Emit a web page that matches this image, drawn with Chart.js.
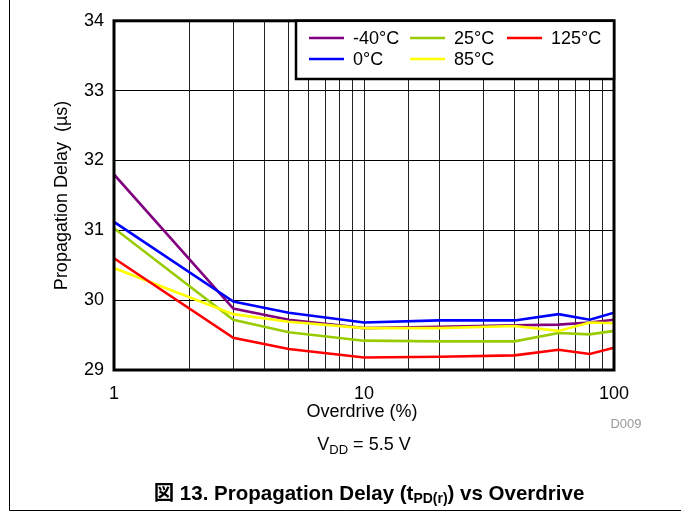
<!DOCTYPE html>
<html>
<head>
<meta charset="utf-8">
<script src="https://cdn.jsdelivr.net/npm/chart.js@4.4.1/dist/chart.umd.min.js"></script>
<style>
  html, body { margin: 0; padding: 0; background: #fff; }
  canvas { display: block; }
</style>
</head>
<body>
<canvas id="chart" width="681" height="514"></canvas>
<script>
// Overdrive (%) en eixo log
const overdrive = [1, 3, 5, 10, 20, 40, 60, 80, 100];

// Atraso de propagação (µs) por temperatura
const tMinus40 = [31.80, 29.88, 29.72, 29.60, 29.62, 29.64, 29.65, 29.68, 29.72];
const t0 = [31.12, 29.98, 29.82, 29.68, 29.71, 29.71, 29.80, 29.72, 29.82];
const t25 = [31.03, 29.72, 29.54, 29.42, 29.41, 29.41, 29.53, 29.51, 29.56];
const t85 = [30.46, 29.80, 29.69, 29.60, 29.60, 29.63, 29.56, 29.68, 29.67];
const t125 = [30.60, 29.46, 29.30, 29.18, 29.19, 29.21, 29.29, 29.23, 29.32];

const seriesLabels = ['-40°C', '0°C', '25°C', '85°C', '125°C'];
const seriesColors = ['#800080', '#0000ff', '#99cc00', '#ffff00', '#ff0000'];

// Ticks
const yTicks = [29, 30, 31, 32, 33, 34];
const xLabelTicks = [1, 10, 100];

const FONT = "'Liberation Sans', Arial, 'Noto Sans CJK JP', sans-serif";

const mkSet = (i, data) => ({
  label: seriesLabels[i],
  data: overdrive.map((x, k) => ({ x, y: data[k] })),
  borderColor: seriesColors[i],
  backgroundColor: seriesColors[i],
  borderWidth: 2.6,
  pointRadius: 0,
  tension: 0,
  order: 5 - i
});

// Moldura, legenda e textos extras
const extras = {
  id: 'extras',
  beforeDraw(chart) {
    const ctx = chart.ctx;
    ctx.save();
    ctx.fillStyle = '#fff';
    ctx.fillRect(0, 0, chart.width, chart.height);
    ctx.strokeStyle = '#000';
    ctx.lineWidth = 1;
    ctx.beginPath();
    ctx.moveTo(9.5, 0);
    ctx.lineTo(9.5, 510.5);
    ctx.lineTo(681, 510.5);
    ctx.stroke();
    ctx.restore();
  },
  afterDraw(chart) {
    const ctx = chart.ctx;
    const a = chart.chartArea;
    ctx.save();

    // moldura grossa
    ctx.strokeStyle = '#000';
    ctx.lineWidth = 3;
    ctx.strokeRect(a.left, a.top, a.right - a.left, a.bottom - a.top);

    // legenda
    const lx = 296, ly = a.top, lw = a.right - lx, lh = 79 - a.top;
    ctx.fillStyle = '#fff';
    ctx.fillRect(lx, ly, lw, lh);
    ctx.lineWidth = 2.5;
    ctx.strokeRect(lx, ly, lw, lh);
    const cols = [309, 410, 507];
    const rows = [38, 59];
    ctx.font = '18px ' + FONT;
    ctx.textBaseline = 'middle';
    ctx.textAlign = 'left';
    seriesLabels.forEach((lab, i) => {
      const cx = cols[Math.floor(i / 2)], cy = rows[i % 2];
      ctx.strokeStyle = seriesColors[i];
      ctx.lineWidth = 2.6;
      ctx.beginPath();
      ctx.moveTo(cx, cy);
      ctx.lineTo(cx + 35, cy);
      ctx.stroke();
      ctx.fillStyle = '#000';
      ctx.fillText(lab, cx + 44, cy + 1);
    });

    // títulos dos eixos
    ctx.fillStyle = '#000';
    ctx.textAlign = 'center';
    ctx.font = '18px ' + FONT;
    ctx.fillText('Overdrive (%)', 362, 412);
    ctx.save();
    ctx.translate(62, (a.top + a.bottom) / 2);
    ctx.rotate(-Math.PI / 2);
    ctx.fillText('Propagation Delay  (\u00b5s)', 0, 0);
    ctx.restore();

    // código da figura
    ctx.fillStyle = '#999';
    ctx.font = '13px ' + FONT;
    ctx.fillText('D009', 626, 424);

    // VDD
    ctx.fillStyle = '#000';
    ctx.textAlign = 'left';
    const parts = [
      ['V', '18px ' + FONT, 0],
      ['DD', '13px ' + FONT, 5],
      [' = 5.5 V', '18px ' + FONT, 0]
    ];
    drawParts(ctx, parts, 364, 445);

    // legenda da figura
    const cap = [
      ['図 13. Propagation Delay (t', 'bold 20.5px ' + FONT, 0],
      ['PD(r)', 'bold 14px ' + FONT, 5],
      [') vs Overdrive', 'bold 20.5px ' + FONT, 0]
    ];
    drawParts(ctx, cap, 369, 494);
    ctx.restore();
  }
};

function drawParts(ctx, parts, cx, cy) {
  let total = 0;
  parts.forEach(p => { ctx.font = p[1]; total += ctx.measureText(p[0]).width; });
  let x = cx - total / 2;
  ctx.textBaseline = 'middle';
  parts.forEach(p => {
    ctx.font = p[1];
    ctx.fillText(p[0], x, cy + p[2]);
    x += ctx.measureText(p[0]).width;
  });
}

new Chart(document.getElementById('chart'), {
  type: 'line',
  data: {
    datasets: [
      mkSet(0, tMinus40),
      mkSet(1, t0),
      mkSet(2, t25),
      mkSet(3, t85),
      mkSet(4, t125)
    ]
  },
  options: {
    responsive: false,
    animation: false,
    layout: { padding: { left: 0, top: 15, right: 67, bottom: 0 } },
    plugins: { legend: { display: false }, tooltip: { enabled: false } },
    scales: {
      x: {
        type: 'logarithmic',
        min: 1,
        max: 100,
        afterFit: s => { s.height = 144; },
        grid: { color: '#222', lineWidth: 1, drawTicks: false },
        border: { display: false },
        ticks: {
          padding: 13,
          autoSkip: false,
          maxRotation: 0,
          color: '#000',
          font: { family: FONT, size: 18 },
          callback: v => xLabelTicks.includes(v) ? String(v) : ''
        }
      },
      y: {
        min: yTicks[0],
        max: yTicks[yTicks.length - 1],
        afterFit: s => { s.width = 114; },
        afterBuildTicks: s => { s.ticks = yTicks.map(v => ({ value: v })); },
        grid: { color: '#000', lineWidth: 1, drawTicks: false },
        border: { display: false },
        ticks: {
          padding: 10,
          color: '#000',
          font: { family: FONT, size: 18 }
        }
      }
    }
  },
  plugins: [extras]
});
</script>
</body>
</html>
